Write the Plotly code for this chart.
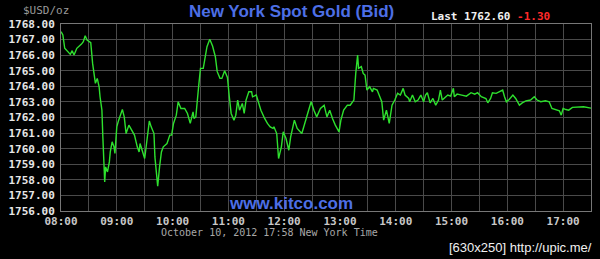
import plotly.graph_objects as go

DATE = "2012-10-10"

times = [
    "08:00", "08:02", "08:04", "08:07", "08:10", "08:12", "08:14", "08:17", "08:20", "08:22",
    "08:24", "08:26", "08:28", "08:31", "08:32", "08:34", "08:36", "08:37", "08:39", "08:41",
    "08:42", "08:44", "08:45", "08:46", "08:47", "08:48", "08:50", "08:52", "08:53", "08:55",
    "08:57", "08:58", "09:00", "09:02", "09:06", "09:08", "09:10", "09:13", "09:16", "09:19",
    "09:22", "09:24", "09:25", "09:28", "09:30", "09:32", "09:35", "09:37", "09:40", "09:41",
    "09:44", "09:46", "09:48", "09:50", "09:54", "09:57", "09:59", "10:01", "10:04", "10:06",
    "10:09", "10:13", "10:16", "10:19", "10:22", "10:23", "10:25", "10:28", "10:30", "10:33",
    "10:36", "10:37", "10:40", "10:43", "10:46", "10:48", "10:51", "10:53", "10:56", "10:59",
    "11:01", "11:03", "11:06", "11:08", "11:10", "11:12", "11:15", "11:17", "11:19", "11:22",
    "11:25", "11:26", "11:30", "11:32", "11:35", "11:39", "11:42", "11:45", "11:48", "11:49",
    "11:52", "11:54", "11:57", "11:59", "12:02", "12:05", "12:07", "12:11", "12:14", "12:19",
    "12:22", "12:25", "12:29", "12:32", "12:35", "12:39", "12:43", "12:46", "12:49", "12:52",
    "12:55", "12:59", "13:01", "13:04", "13:08", "13:11", "13:15", "13:17", "13:19", "13:20",
    "13:23", "13:25", "13:27", "13:29", "13:32", "13:35", "13:36", "13:40", "13:43", "13:45",
    "13:47", "13:50", "13:53", "13:56", "13:59", "14:02", "14:05", "14:08", "14:10", "14:14",
    "14:15", "14:18", "14:21", "14:24", "14:27", "14:30", "14:32", "14:34", "14:37", "14:40",
    "14:43", "14:46", "14:48", "14:50", "14:53", "14:56", "14:59", "15:02", "15:03", "15:06",
    "15:11", "15:16", "15:21", "15:25", "15:28", "15:32", "15:37", "15:39", "15:42", "15:44",
    "15:48", "15:51", "15:55", "15:57", "15:59", "16:02", "16:06", "16:09", "16:13", "16:16",
    "16:20", "16:25", "16:29", "16:32", "16:36", "16:41", "16:45", "16:48", "16:52", "16:56",
    "16:58", "17:00", "17:03", "17:06", "17:10", "17:13", "17:17", "17:22", "17:30",
]

prices = [
    1767.51, 1767.30, 1766.44, 1766.22, 1766.05, 1766.29, 1766.01, 1766.44, 1766.59, 1766.71,
    1766.86, 1767.25, 1766.97, 1766.86, 1766.80, 1765.47, 1764.51, 1764.19, 1764.51, 1763.97,
    1763.33, 1762.47, 1760.76, 1759.05, 1757.87, 1758.83, 1758.51, 1759.15, 1759.79, 1760.44,
    1760.12, 1759.69, 1761.40, 1761.83, 1762.52, 1762.04, 1760.97, 1761.51, 1761.19, 1760.87,
    1760.12, 1759.79, 1760.33, 1759.69, 1759.37, 1760.33, 1761.77, 1761.40, 1760.97, 1759.47,
    1757.59, 1758.83, 1759.79, 1760.12, 1760.33, 1760.87, 1760.87, 1761.62, 1762.15, 1763.01,
    1762.58, 1762.58, 1762.26, 1761.62, 1762.36, 1761.94, 1762.04, 1763.97, 1765.15, 1765.15,
    1766.12, 1766.54, 1767.02, 1766.59, 1765.90, 1764.94, 1764.51, 1764.51, 1765.00, 1764.57,
    1763.33, 1762.26, 1761.83, 1762.15, 1763.12, 1762.47, 1762.90, 1762.26, 1763.12, 1763.65,
    1763.65, 1763.33, 1763.44, 1763.01, 1762.47, 1761.94, 1761.62, 1761.40, 1761.30, 1761.40,
    1760.97, 1759.37, 1760.12, 1761.08, 1760.65, 1759.90, 1760.76, 1761.83, 1761.30, 1760.97,
    1761.62, 1762.15, 1763.01, 1762.47, 1762.04, 1762.58, 1762.79, 1762.04, 1762.47, 1761.94,
    1761.51, 1761.08, 1761.83, 1762.47, 1762.79, 1762.79, 1763.12, 1764.83, 1766.01, 1765.15,
    1765.26, 1764.83, 1764.72, 1763.76, 1763.97, 1763.65, 1763.87, 1763.76, 1763.22, 1763.01,
    1761.83, 1762.47, 1761.62, 1762.79, 1763.12, 1763.55, 1763.44, 1763.87, 1763.44, 1763.22,
    1763.01, 1763.44, 1763.01, 1763.12, 1763.44, 1763.01, 1763.44, 1763.59, 1762.94, 1763.22,
    1762.79, 1763.12, 1763.76, 1763.12, 1763.29, 1763.44, 1763.37, 1763.87, 1763.33, 1763.50,
    1763.44, 1763.37, 1763.59, 1763.50, 1763.59, 1763.33, 1763.22, 1762.94, 1763.22, 1763.59,
    1763.55, 1763.65, 1763.76, 1763.33, 1763.01, 1763.16, 1763.44, 1763.22, 1762.79, 1762.94,
    1763.07, 1763.12, 1763.33, 1763.12, 1763.01, 1763.07, 1763.01, 1762.58, 1762.51, 1762.43,
    1762.15, 1762.58, 1762.51, 1762.47, 1762.65, 1762.65, 1762.65, 1762.69, 1762.60,
]

title_text = "New York Spot Gold (Bid)"
unit_text = "$USD/oz"
last_text = "Last 1762.60"
change_text = "-1.30"
site_text = "www.kitco.com"
footer_text = "October 10, 2012 17:58 New York Time"
watermark_text = "[630x250] http://upic.me/"

y_range = [1756, 1768]
x_range = [f"{DATE} 08:00", f"{DATE} 17:30"]

xs = [f"{DATE} {t}" for t in times]

MONO = "DejaVu Sans Mono"
GRID = "#4a4a4a"
BORDER = "#777777"
W, H = 600, 259
PL, PR, PT, PB = 58, 592, 24, 211

fig = go.Figure()
fig.add_trace(go.Scatter(
    x=xs, y=prices, mode="lines",
    line=dict(color="#2ee02e", width=1.4),
    hoverinfo="skip", showlegend=False,
))

fig.update_layout(
    width=W, height=H,
    margin=dict(l=PL, r=W - PR, t=PT, b=H - PB),
    paper_bgcolor="black", plot_bgcolor="black",
    showlegend=False,
    xaxis=dict(
        range=x_range, type="date",
        tick0=f"{DATE} 08:00", dtick=30 * 60 * 1000, ticklabelstep=2,
        tickformat="%H:%M",
        showgrid=True, gridcolor=GRID, gridwidth=1,
        showline=True, linecolor=BORDER, linewidth=1, mirror=True,
        zeroline=False, ticks="",
        tickfont=dict(family=MONO, size=11, color="#c8c8c8", weight="bold"),
    ),
    yaxis=dict(
        range=y_range, dtick=1, tickformat=".2f",
        showgrid=True, gridcolor=GRID, gridwidth=1,
        showline=True, linecolor=BORDER, linewidth=1, mirror=True,
        zeroline=False, ticks="outside", ticklen=3, tickcolor="black",
        tickfont=dict(family=MONO, size=11, color="#e6e6e6", weight="bold"),
    ),
)

# text placed by pixel position on the 600x259 canvas
annotations = [
    dict(x=290, y=12, text=f"<b>{title_text}</b>",
         font=dict(family="Liberation Sans", size=17, color="#4d6fe6"), xanchor="center"),
    dict(x=18, y=11, text=unit_text,
         font=dict(family=MONO, size=11, color="#9a9a9a"), xanchor="left"),
    dict(x=429, y=16,
         text=f"<b>{last_text} <span style='color:#ff2a2a'>{change_text}</span></b>",
         font=dict(family=MONO, size=11, color="#f0f0f0"), xanchor="left"),
    dict(x=290, y=203, text=f"<b>{site_text}</b>",
         font=dict(family="Liberation Sans", size=17, color="#4d6fe6"), xanchor="center"),
    dict(x=268, y=232, text=footer_text,
         font=dict(family=MONO, size=10, color="#a8a8a8"), xanchor="center"),
    dict(x=595, y=248, text=watermark_text,
         font=dict(family="Liberation Sans", size=13, color="#f0f0f0"), xanchor="right"),
]

for a in annotations:
    fig.add_annotation(
        x=(a["x"] - PL) / (PR - PL), y=(PB - a["y"]) / (PB - PT),
        xref="paper", yref="paper",
        text=a["text"], showarrow=False, font=a["font"],
        xanchor=a["xanchor"], yanchor="middle",
    )

fig.write_html("out.html")
